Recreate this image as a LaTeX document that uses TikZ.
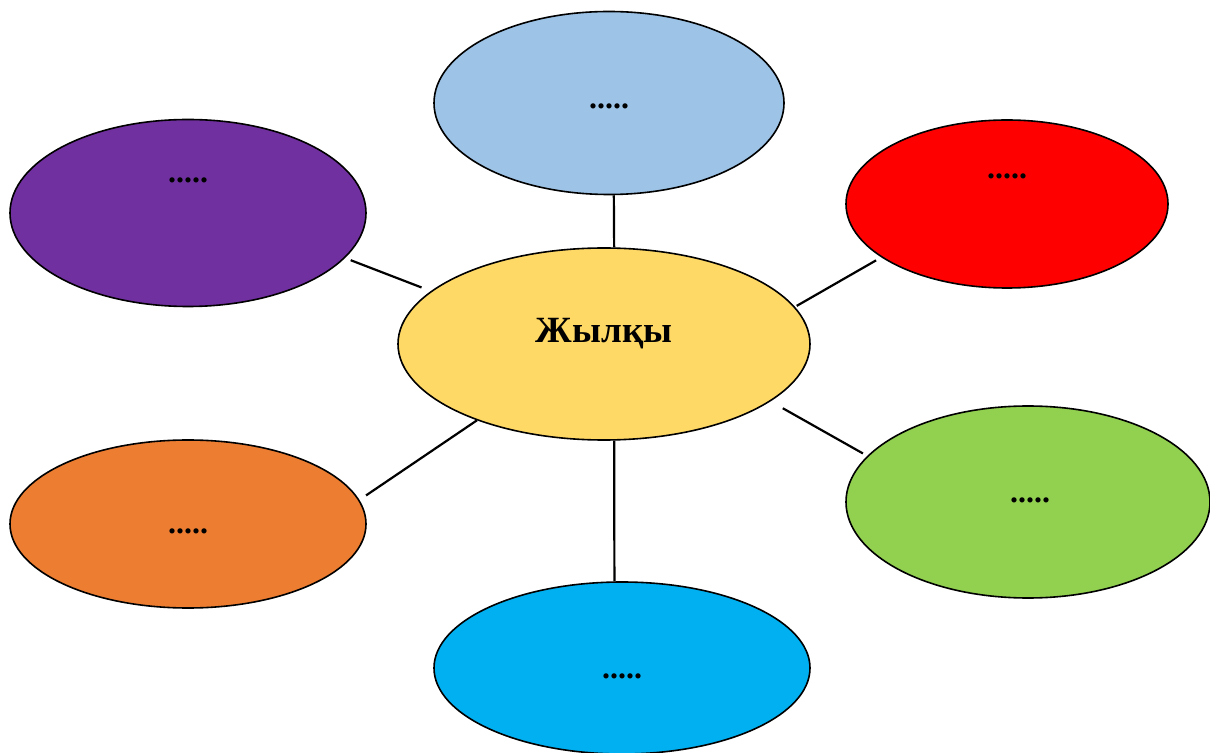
\documentclass[tikz,border=0pt]{standalone}
\usepackage{fontspec}
\setmainfont{Liberation Serif}
\usetikzlibrary{shapes.geometric}

\definecolor{paleblue}{HTML}{9DC3E6}
\definecolor{violet}{HTML}{7030A0}
\definecolor{scarlet}{HTML}{FF0000}
\definecolor{sand}{HTML}{FFD966}
\definecolor{amber}{HTML}{ED7D31}
\definecolor{lime}{HTML}{92D050}
\definecolor{cyanblue}{HTML}{00B0F0}

\begin{document}
\begin{tikzpicture}[
x=0.5pt, y=-0.5pt,
blob/.style={ellipse, draw, line width=0.8pt, inner sep=0pt},
dots/.style={inner sep=0pt, font=\fontsize{16}{18}\selectfont\bfseries},
title/.style={inner sep=0pt, font=\fontsize{18.5}{21}\selectfont\bfseries},
]
\useasboundingbox (0,0) rectangle (1210,753);

\node[blob, fill=paleblue, minimum width=175pt, minimum height=91.5pt] (top) at (609,103) {};
\node[blob, fill=violet, minimum width=178pt, minimum height=93.5pt] (purple) at (188,213) {};
\node[blob, fill=scarlet, minimum width=161pt, minimum height=84pt] (red) at (1007,204) {};
\node[blob, fill=sand, minimum width=206pt, minimum height=96pt] (centre) at (604,344) {};
\node[blob, fill=amber, minimum width=178pt, minimum height=84pt] (orange) at (188,524) {};
\node[blob, fill=lime, minimum width=182pt, minimum height=96pt] (green) at (1028,502) {};
\node[blob, fill=cyanblue, minimum width=188pt, minimum height=86pt] (bottom) at (622,668) {};

\node[title, anchor=base] (word) at (604,343) {Жылқы};
\node[dots] (t1) at (609,106) {.....};
\node[dots] (t2) at (188,180) {.....};
\node[dots] (t3) at (1007,176) {.....};
\node[dots] (t4) at (188,531) {.....};
\node[dots] (t5) at (1030,500) {.....};
\node[dots] (t6) at (622,676) {.....};

\path[line width=1.1pt]
(top.-87) edge (centre.84)
(purple.-16) edge[shorten <=3pt, shorten >=5pt] (centre.163)
(red.-157) edge[shorten <=3pt, shorten >=1pt] (centre.11)
(orange.8) edge[shorten <=4pt] (centre.-149)
(centre.-19) edge[shorten <=7pt, shorten >=2.5pt] (green.164)
(centre.-84) edge (bottom.95)
;
\end{tikzpicture}
\end{document}
